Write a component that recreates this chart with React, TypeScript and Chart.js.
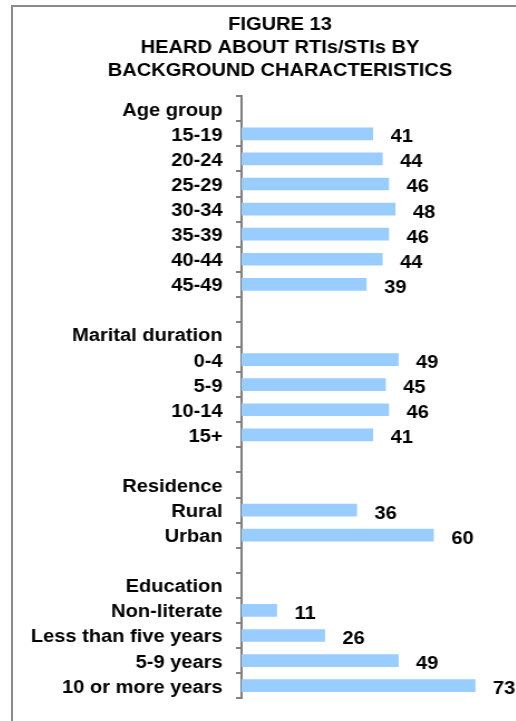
import React, { useEffect, useRef } from "react";
import { Chart, registerables } from "chart.js";

Chart.register(...registerables);

// Figure title lines
const titleLines = ["FIGURE 13", "HEARD ABOUT RTIs/STIs BY", "BACKGROUND CHARACTERISTICS"];

// Percent of women who have heard about RTIs/STIs, by group
const ageHeading = "Age group";
const ageLabels = ["15-19", "20-24", "25-29", "30-34", "35-39", "40-44", "45-49"];
const ageValues = [41, 44, 46, 48, 46, 44, 39];

const maritalHeading = "Marital duration";
const maritalLabels = ["0-4", "5-9", "10-14", "15+"];
const maritalValues = [49, 45, 46, 41];

const residenceHeading = "Residence";
const residenceLabels = ["Rural", "Urban"];
const residenceValues = [36, 60];

const educationHeading = "Education";
const educationLabels = ["Non-literate", "Less than five years", "5-9 years", "10 or more years"];
const educationValues = [11, 26, 49, 73];

const groups = [
  { heading: ageHeading, labels: ageLabels, values: ageValues },
  { heading: maritalHeading, labels: maritalLabels, values: maritalValues },
  { heading: residenceHeading, labels: residenceLabels, values: residenceValues },
  { heading: educationHeading, labels: educationLabels, values: educationValues },
];

// Flatten the groups into one category axis: heading row, rows, then a blank spacer
const categories: string[] = [];
const values: (number | null)[] = [];
groups.forEach((g, gi) => {
  categories.push(g.heading);
  values.push(null);
  g.labels.forEach((l, i) => {
    categories.push(l);
    values.push(g.values[i]);
  });
  if (gi < groups.length - 1) {
    categories.push("");
    values.push(null);
  }
});

const FONT = "'Liberation Sans', Arial, Helvetica, sans-serif";
const STRETCH = 1.115; // the whole figure is drawn slightly wide
const CSS_W = 534;
const CSS_H = 714;
const INT_W = Math.round(CSS_W / STRETCH);
const X_MAX = 95.5;

const valueLabels = {
  id: "valueLabels",
  afterDatasetsDraw(chart: any) {
    const ctx = chart.ctx;
    const meta = chart.getDatasetMeta(0);
    ctx.save();
    ctx.font = `bold 18px ${FONT}`;
    ctx.fillStyle = "#000";
    ctx.textAlign = "left";
    ctx.textBaseline = "middle";
    meta.data.forEach((bar: any, i: number) => {
      const v = values[i];
      if (v === null || v === undefined) return;
      ctx.fillText(String(v), bar.x + 16, bar.y + 3.5);
    });
    ctx.restore();
  },
};

export default function App() {
  const ref = useRef<HTMLCanvasElement | null>(null);

  useEffect(() => {
    if (!ref.current) return;
    const chart = new Chart(ref.current, {
      type: "bar",
      data: {
        labels: categories,
        datasets: [
          {
            data: values as any,
            backgroundColor: "#99CCFF",
            borderWidth: 0,
            barThickness: 12,
          },
        ],
      },
      options: {
        indexAxis: "y",
        responsive: false,
        animation: false,
        devicePixelRatio: 1,
        layout: { padding: { left: 0, right: 0, top: 0, bottom: 19 } },
        plugins: {
          legend: { display: false },
          tooltip: { enabled: false },
          title: {
            display: true,
            text: titleLines,
            color: "#000",
            font: { family: FONT, size: 18, weight: "bold", lineHeight: 1.3 },
            padding: { top: 6, bottom: 13 },
          },
        },
        scales: {
          x: { type: "linear", min: 0, max: X_MAX, display: false },
          y: {
            type: "category",
            position: "left",
            offset: true,
            grid: {
              display: true,
              drawOnChartArea: false,
              drawTicks: true,
              tickLength: 5,
              color: "#808080",
              lineWidth: 2,
              offset: true,
            },
            border: { display: true, color: "#808080", width: 2 },
            ticks: {
              autoSkip: false,
              color: "#000",
              padding: 12,
              labelOffset: 2,
              font: { family: FONT, size: 18, weight: "bold" },
            },
            afterFit(scale: any) {
              scale.width = 205;
            },
          },
        },
      },
      plugins: [valueLabels],
    });
    return () => chart.destroy();
  }, []);

  return (
    <div
      style={{
        position: "absolute",
        left: 0,
        top: 0,
        width: 516,
        height: 721,
        overflow: "hidden",
        background: "#fff",
      }}
    >
      <div
        style={{
          position: "absolute",
          left: 11,
          top: 5,
          width: 536,
          height: 800,
          border: "2px solid #8a8a8a",
        }}
      />
      <canvas
        ref={ref}
        width={INT_W}
        height={CSS_H}
        style={{ position: "absolute", left: 13, top: 7, width: CSS_W, height: CSS_H }}
      />
    </div>
  );
}
